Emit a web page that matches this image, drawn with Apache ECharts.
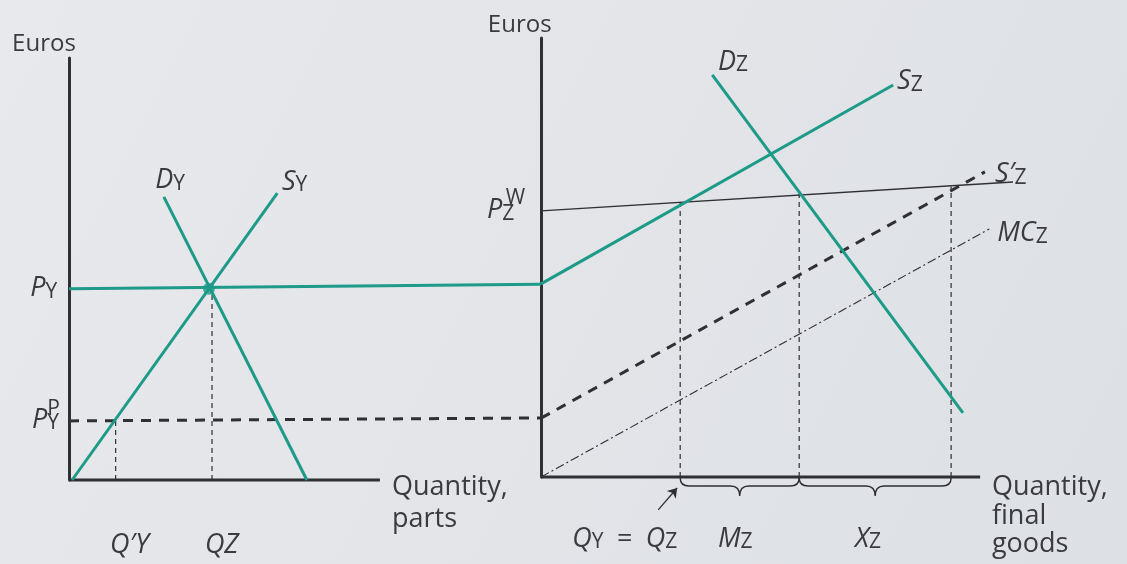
<!DOCTYPE html>
<html>
<head>
<meta charset="utf-8">
<title>Parts and final goods markets</title>
<script src="https://cdn.jsdelivr.net/npm/echarts@6/dist/echarts.min.js"></script>
<style>
  html, body { margin: 0; padding: 0; background: #e4e6ea; }
  #chart { width: 1127px; height: 564px; }
</style>
</head>
<body>
<div id="chart"></div>
<script>
// ---------- Left panel: market for parts (quantity, euros in chart units) ----------
const partsQuantityAxis = [0, 100];                    // drawn extent of the quantity axis
const priceY          = [[0, 45.3], [151.8, 46.4]];   // P_Y, carried across to the final-goods axis
const protectedPriceY = [[0, 14.0], [151.8, 14.7]];   // P_Y^P
const demandY         = [[30.5, 67.1], [76.5, 0]];
const supplyY         = [[1, 0], [67, 68.0]];
const equilibriumY    = [[45.0, 45.3]];
const guideQPrimeY    = [[15, 0], [15, 14.0]];
const guideQZ         = [[46, 0], [46, 44]];

// ---------- Right panel: market for final goods ----------
const goodsQuantityAxis = [0, 100];
const supplyZ          = [[0, 44.0], [80.2, 89.3]];
const demandZ          = [[39.0, 91.6], [96.1, 14.6]];
const worldPriceZ      = [[0, 60.6], [107.5, 67.2]];
const supplyZTariff    = [[0, 13.4], [101.1, 69.5]];   // S'_Z
const marginalCostZ    = [[0, 0], [102.1, 56.5]];
const guideQuantities  = [31.7, 58.8, 93.4];            // Q_Y = Q_Z, end of M_Z, end of X_Z
const guideTops        = [62.5, 64.5, 66.2];
const braceSpans       = [[31.7, 58.8], [58.8, 93.4]];  // M_Z, X_Z
const qArrow           = [[26.7, -7.5], [31.0, -2.5]];

// ---------- Labels: [quantity, euros, text] ----------
const leftLabels = [
  [-18.3, 103.2, '{e|Euros}'],
  [-12.5, 45.7, '{i|P}{s|Y}'],
  [-11.9, 14.5, '{i|P}{s|Y}'],
  [-7.0, 16.8, '{s|P}'],
  [27.7, 71.3, '{i|D}{s|Y}'],
  [68.5, 70.9, '{i|S}{s|Y}'],
  [13.2, -15.2, '{i|Q′Y}'],
  [43.7, -15.2, '{i|QZ}'],
  [103.9, -1.8, 'Quantity,'],
  [103.9, -9.2, 'parts']
];
const rightLabels = [
  [-12.1, 103.0, '{e|Euros}'],
  [-12.3, 61.0, '{i|P}{s|Z}'],
  [-8.0, 63.6, '{s|W}'],
  [40.3, 94.8, '{i|D}{s|Z}'],
  [81.1, 90.4, '{i|S}{s|Z}'],
  [103.4, 69.2, '{i|S′}{s|Z}'],
  [103.9, 55.8, '{i|MC}{s|Z}'],
  [7.1, -13.8, '{i|Q}{s|Y}{n|\u2002=\u2002}{i|Q}{s|Z}'],
  [40.3, -13.8, '{i|M}{s|Z}'],
  [71.5, -13.8, '{i|X}{s|Z}'],
  [102.7, -2.3, 'Quantity,'],
  [102.7, -9.0, 'final'],
  [102.7, -15.4, 'goods']
];

const TEAL = '#1d9a88';
const INK = '#2f2f34';
const TEXT = '#3a3a3f';
const FONT = '"Open Sans", "Noto Sans", sans-serif';

const RICH = {
  e: { fontFamily: FONT, fontSize: 24, lineHeight: 30, fill: TEXT },
  i: { fontFamily: FONT, fontStyle: 'italic', fontSize: 27, lineHeight: 30, verticalAlign: 'bottom', fill: TEXT },
  s: { fontFamily: FONT, fontSize: 21, lineHeight: 21, verticalAlign: 'bottom', fill: TEXT },
  n: { fontFamily: FONT, fontSize: 27, lineHeight: 30, verticalAlign: 'bottom', fill: TEXT }
};

const solidTeal = { color: TEAL, width: 3 };
const axisInk   = { color: INK, width: 3 };
const thickDash = { color: INK, width: 3, type: [10, 8] };
const thinDash  = { color: INK, width: 1.2, type: [5, 4] };
const thinSolid = { color: INK, width: 1.3 };
const dashDot   = { color: INK, width: 1.1, type: [9, 3, 2, 3] };

function seg(name, data, g, style, z) {
  return {
    name, type: 'line', xAxisIndex: g, yAxisIndex: g, data,
    symbol: 'none', clip: false, silent: true, animation: false,
    lineStyle: style, z: z || 2
  };
}

function labelSeries(g, items) {
  return {
    type: 'custom', coordinateSystem: 'cartesian2d', xAxisIndex: g, yAxisIndex: g,
    data: items.map(d => [d[0], d[1]]), silent: true, animation: false, z: 10,
    renderItem: (params, api) => {
      const d = items[params.dataIndex];
      const pt = api.coord([d[0], d[1]]);
      return {
        type: 'text', x: pt[0], y: pt[1],
        style: {
          text: d[2], rich: RICH, fill: TEXT, fontFamily: FONT, fontSize: 27,
          align: 'left', verticalAlign: 'middle'
        }
      };
    }
  };
}

// The quantity axes reach past their drawn line so the price lines can run on
// to the neighbouring axis; the visible quantity line is drawn as a series.
function xAxisFor(g, max) {
  return {
    gridIndex: g, type: 'value', min: 0, max,
    axisLine: { show: false }, axisTick: { show: false },
    axisLabel: { show: false }, splitLine: { show: false }
  };
}
function yAxisFor(g) {
  return {
    gridIndex: g, type: 'value', min: 0, max: 100,
    axisLine: { show: true, onZero: false, lineStyle: axisInk },
    axisTick: { show: false }, axisLabel: { show: false }, splitLine: { show: false }
  };
}

const series = [
  // left panel
  seg('quantity, parts', partsQuantityAxis.map(q => [q, 0]), 0, axisInk, 1),
  seg('P_Y^P', protectedPriceY, 0, thickDash, 3),
  seg("Q'Y", guideQPrimeY, 0, thinDash),
  seg('QZ', guideQZ, 0, thinDash),
  seg('P_Y', priceY, 0, solidTeal, 5),
  seg('D_Y', demandY, 0, solidTeal, 5),
  seg('S_Y', supplyY, 0, solidTeal, 5),
  {
    type: 'scatter', xAxisIndex: 0, yAxisIndex: 0, data: equilibriumY,
    symbolSize: 12, itemStyle: { color: TEAL }, silent: true, animation: false, z: 6
  },
  // right panel
  seg('quantity, final goods', goodsQuantityAxis.map(q => [q, 0]), 1, axisInk, 1),
  seg('P_Z^W', worldPriceZ, 1, thinSolid, 3),
  seg("S'_Z", supplyZTariff, 1, thickDash, 3),
  seg('MC_Z', marginalCostZ, 1, dashDot, 3),
  ...guideQuantities.map((q, k) => seg('guide' + k, [[q, 0], [q, guideTops[k]]], 1, thinDash)),
  seg('S_Z', supplyZ, 1, solidTeal, 5),
  seg('D_Z', demandZ, 1, solidTeal, 5),
  {
    type: 'custom', coordinateSystem: 'cartesian2d', xAxisIndex: 1, yAxisIndex: 1,
    data: braceSpans, silent: true, animation: false, z: 4,
    renderItem: (params, api) => {
      const a = api.coord([api.value(0), 0]);
      const b = api.coord([api.value(1), 0]);
      const y0 = a[1] + 1, y1 = a[1] + 9, y2 = a[1] + 19;
      const m = (a[0] + b[0]) / 2, r = 9;
      const d = `M${a[0]},${y0} Q${a[0]},${y1} ${a[0] + r},${y1} L${m - r},${y1} ` +
                `Q${m},${y1} ${m},${y2} Q${m},${y1} ${m + r},${y1} L${b[0] - r},${y1} ` +
                `Q${b[0]},${y1} ${b[0]},${y0}`;
      return { type: 'path', shape: { pathData: d }, style: { stroke: INK, lineWidth: 1.4, fill: 'none' } };
    }
  },
  {
    type: 'lines', coordinateSystem: 'cartesian2d', xAxisIndex: 1, yAxisIndex: 1,
    data: [{ coords: qArrow }], symbol: ['none', 'arrow'], symbolSize: 9,
    lineStyle: { color: INK, width: 1.3, opacity: 1 }, itemStyle: { color: INK },
    clip: false, silent: true, animation: false, z: 4
  },
  labelSeries(0, leftLabels),
  labelSeries(1, rightLabels)
];

const chart = echarts.init(document.getElementById('chart'), null, { renderer: 'canvas' });
chart.setOption({
  animation: false,
  backgroundColor: {
    type: 'linear', x: 0, y: 0, x2: 1, y2: 1,
    colorStops: [{ offset: 0, color: '#e8e9ed' }, { offset: 1, color: '#dde0e4' }]
  },
  grid: [
    { left: 69, top: 58, width: 472, height: 422 },   // quantity 0..151.8
    { left: 541, top: 38, width: 483, height: 439 }   // quantity 0..110
  ],
  xAxis: [xAxisFor(0, 151.8), xAxisFor(1, 110)],
  yAxis: [yAxisFor(0), yAxisFor(1)],
  series
});
</script>
</body>
</html>
